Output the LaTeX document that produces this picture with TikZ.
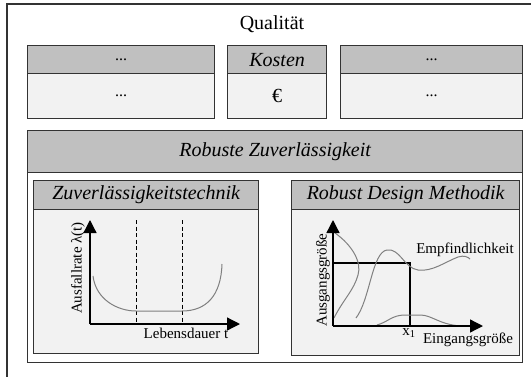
\documentclass[tikz,border=0pt]{standalone}
\usepackage{fontspec}
\setmainfont{Liberation Serif}
\usetikzlibrary{arrows.meta}
\definecolor{headgray}{HTML}{C0C0C0}
\definecolor{bodygray}{HTML}{F2F2F2}
\definecolor{framecol}{HTML}{333333}
\definecolor{curvegray}{HTML}{808080}
\tikzset{
  frame/.style={draw=framecol, line width=1.3pt},
  headbox/.style={frame, fill=headgray, inner sep=0pt, anchor=north west},
  bodybox/.style={frame, fill=bodygray, inner sep=0pt, anchor=north west},
  bigit/.style={font=\fontsize{20}{24}\selectfont\itshape},
  bigrm/.style={font=\fontsize{20}{24}\selectfont},
  dots/.style={font=\fontsize{16}{18}\selectfont},
  lbl/.style={font=\fontsize{15}{17}\selectfont, inner sep=0pt},
  axis/.style={black, line width=1.3pt, -{Triangle[length=13pt,width=13pt]}},
  guide/.style={black, line width=0.9pt, dash pattern=on 4pt off 2.5pt},
  curve/.style={curvegray, line width=1pt},
  plain/.style={black, line width=1.2pt}
}
\begin{document}
\begin{tikzpicture}[x=1pt,y=-1pt]
\useasboundingbox (0,0) rectangle (531,376);
\begin{scope}
\clip (0,0) rectangle (531,376);
% outer frame
\draw[framecol, line width=1.2pt] (7,380) -- (7,4) -- (540,4);
\end{scope}

% quality title
\node[bigrm] (qual) at (272,24) {Qualität};

% three quality aspects
\node[headbox, minimum width=187pt, minimum height=28pt] (h1) at (27,45) {};
\node[bodybox, minimum width=187pt, minimum height=45pt] (b1) at (27,73) {};
\node[headbox, minimum width=99pt, minimum height=28pt] (h2) at (227,45) {};
\node[bodybox, minimum width=99pt, minimum height=45pt] (b2) at (227,73) {};
\node[headbox, minimum width=182pt, minimum height=28pt] (h3) at (340,45) {};
\node[bodybox, minimum width=182pt, minimum height=45pt] (b3) at (340,73) {};
\node[dots] at (h1.center) {...};
\node[dots] at (b1.center) {...};
\node[bigit] at (h2.center) {Kosten};
\node[bigrm] at (b2.center) {€};
\node[dots] at (h3.center) {...};
\node[dots] at (b3.center) {...};

% robust reliability block
\node[headbox, minimum width=495pt, minimum height=42pt] (rh) at (27,130) {};
\node[bodybox, fill=white, minimum width=495pt, minimum height=190pt] (rb) at (27,172) {};
\node[bigit] at (rh.center) {Robuste Zuverlässigkeit};

% left panel
\node[headbox, minimum width=225pt, minimum height=29pt] (lh) at (33,180) {};
\node[bodybox, minimum width=225pt, minimum height=144pt] (lb) at (33,209) {};
\node[bigit] at (lh.center) {Zuverlässigkeitstechnik};

% right panel
\node[headbox, minimum width=228pt, minimum height=29pt] (ph) at (291,180) {};
\node[bodybox, minimum width=228pt, minimum height=146pt] (pb) at (291,209) {};
\node[bigit] at (ph.center) {Robust Design Methodik};

% bathtub curve
\coordinate (o1) at (90,324);
\coordinate (y1) at (90,220);
\coordinate (x1) at (240,324);
\coordinate (d1t) at (136,220);
\coordinate (d1b) at (136,324);
\coordinate (d2t) at (182,220);
\coordinate (d2b) at (182,324);
\draw[guide] (d1t) -- (d1b);
\draw[guide] (d2t) -- (d2b);
\draw[curve] (93,276) .. controls (96,300) and (118,311) .. (136,311)
  -- (182,311) .. controls (206,311) and (221,296) .. (222,264);
\draw[axis] (o1) -- (y1);
\draw[axis] (o1) -- (x1);
\node[lbl, rotate=90] (ylab1) at (78,268) {Ausfallrate λ(t)};
\node[lbl] (xlab1) at (186,333) {Lebensdauer t};

% robust design sketch
\coordinate (o2) at (333,326);
\coordinate (y2) at (333,220);
\coordinate (x2) at (483,326);
\coordinate (r1) at (333,263);
\coordinate (r2) at (410,263);
\coordinate (r3) at (410,326);
\draw[plain] (r1) -- (r2) -- (r3);
\draw[curve] (335,233) .. controls (352,245) and (362,262) .. (358,275)
  .. controls (354,290) and (343,300) .. (334,318);
\draw[curve] (356,318) .. controls (370,300) and (372,252) .. (387,250)
  .. controls (400,248) and (404,268) .. (418,270)
  .. controls (432,272) and (445,262) .. (458,257)
  .. controls (464,255) and (468,257) .. (470,259);
\draw[curve] (377,325) .. controls (388,322) and (392,315) .. (405,315)
  -- (420,315) .. controls (432,315) and (438,324) .. (460,326);
\draw[axis] (o2) -- (y2);
\draw[axis] (o2) -- (x2);
\node[lbl, rotate=90] (ylab2) at (323,280) {Ausgangsgröße};
\node[lbl] (xlab2) at (468,340) {Eingangsgröße};
\node[lbl] (xone) at (409,333) {x\textsubscript{1}};
\node[lbl] (sens) at (465,250) {Empfindlichkeit};
\end{tikzpicture}
\end{document}
